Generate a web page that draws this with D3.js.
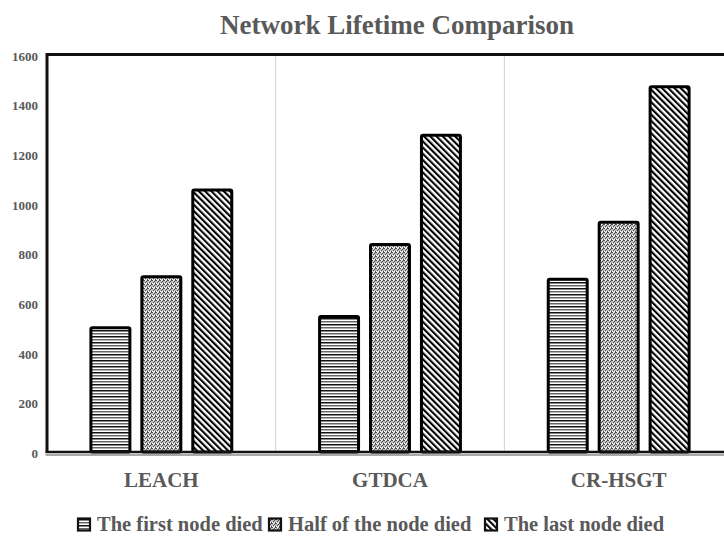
<!DOCTYPE html>
<html>
<head>
<meta charset="utf-8">
<script src="https://cdn.jsdelivr.net/npm/d3@7"></script>
<style>
  body { margin: 0; background: #fff; }
  svg { display: block; font-family: "Liberation Serif", "DejaVu Serif", serif; }
</style>
</head>
<body>
<svg id="chart" width="724" height="537"></svg>
<script>
var categories = ['LEACH', 'GTDCA', 'CR-HSGT'];
var seriesNames = ['The first node died', 'Half of the node died', 'The last node died'];
var firstDied = [500, 545, 695];
var halfDied = [705, 835, 925];
var lastDied = [1055, 1275, 1470];
var yTicks = [0, 200, 400, 600, 800, 1000, 1200, 1400, 1600];

var conf = {
    left: 47, top: 54.5, right: 733, bottom: 452,
    textColor: '#595959'
};

var svg = d3.select('#chart');
var defs = svg.append('defs');

// horizontal stripes
var p0 = defs.append('pattern').attr('id', 'pat0')
    .attr('patternUnits', 'userSpaceOnUse').attr('width', 4).attr('height', 6);
p0.append('rect').attr('width', 4).attr('height', 6).attr('fill', '#fff');
p0.append('rect').attr('y', 0).attr('width', 4).attr('height', 1.5).attr('fill', '#111');
p0.append('rect').attr('y', 3).attr('width', 4).attr('height', 1.5).attr('fill', '#666');

// stippled grey
var p1 = defs.append('pattern').attr('id', 'pat1')
    .attr('patternUnits', 'userSpaceOnUse').attr('width', 4).attr('height', 4);
p1.append('rect').attr('width', 4).attr('height', 4).attr('fill', '#c0c0c0');
[[0, 0], [2, 1], [1, 2], [3, 3], [3, 0]].forEach(function(d) {
    p1.append('rect').attr('x', d[0]).attr('y', d[1]).attr('width', 1).attr('height', 1).attr('fill', '#4a4a4a');
});
[[1, 0], [0, 3], [2, 3]].forEach(function(d) {
    p1.append('rect').attr('x', d[0]).attr('y', d[1]).attr('width', 1).attr('height', 1).attr('fill', '#fff');
});

// diagonal stripes "\"
var p2 = defs.append('pattern').attr('id', 'pat2')
    .attr('patternUnits', 'userSpaceOnUse').attr('width', 4.4).attr('height', 4.4)
    .attr('patternTransform', 'rotate(-45)');
p2.append('rect').attr('width', 4.4).attr('height', 4.4).attr('fill', '#fff');
p2.append('rect').attr('width', 2.1).attr('height', 4.4).attr('fill', '#000');

var fills = ['url(#pat0)', 'url(#pat1)', 'url(#pat2)'];

var x = d3.scaleBand().domain(categories).range([conf.left, conf.right]);
var y = d3.scaleLinear().domain([0, 1600]).range([conf.bottom, conf.top]);

// category separators
svg.append('g').selectAll('line')
    .data(categories.slice(1))
    .join('line')
    .attr('x1', d => x(d)).attr('x2', d => x(d))
    .attr('y1', conf.top).attr('y2', conf.bottom)
    .attr('stroke', '#d0d0d0').attr('stroke-width', 1);

// y tick labels
svg.append('g').selectAll('text')
    .data(yTicks)
    .join('text')
    .attr('x', 38).attr('y', d => y(d) + 6)
    .attr('text-anchor', 'end')
    .attr('font-size', 13).attr('font-weight', 'bold')
    .attr('fill', conf.textColor)
    .text(d => d);

// bars
var data = [];
categories.forEach(function(c, i) {
    [firstDied, halfDied, lastDied].forEach(function(s, j) {
        data.push({ cat: c, series: j, value: s[i] });
    });
});
var inner = d3.scaleBand().domain([0, 1, 2]).range([0, x.bandwidth()]).paddingInner(0.235).paddingOuter(0.862);

svg.append('g').selectAll('rect')
    .data(data)
    .join('rect')
    .attr('x', d => x(d.cat) + inner(d.series))
    .attr('y', d => y(d.value))
    .attr('width', inner.bandwidth())
    .attr('height', d => conf.bottom - y(d.value))
    .attr('rx', 1.5)
    .attr('fill', d => fills[d.series])
    .attr('stroke', '#000').attr('stroke-width', 3);

// frame
svg.append('line').attr('x1', conf.left).attr('x2', 724).attr('y1', conf.top).attr('y2', conf.top)
    .attr('stroke', '#111').attr('stroke-width', 2.8);
svg.append('line').attr('x1', conf.left).attr('x2', conf.left).attr('y1', conf.top - 1.4).attr('y2', conf.bottom)
    .attr('stroke', '#111').attr('stroke-width', 3);
svg.append('line').attr('x1', conf.left - 1.5).attr('x2', 724).attr('y1', conf.bottom).attr('y2', conf.bottom)
    .attr('stroke', '#111').attr('stroke-width', 2.5);
svg.append('line').attr('x1', conf.left - 1.5).attr('x2', 724).attr('y1', conf.bottom + 3).attr('y2', conf.bottom + 3)
    .attr('stroke', '#555').attr('stroke-width', 1.2);

// category labels
svg.append('g').selectAll('text')
    .data(categories)
    .join('text')
    .attr('x', d => x(d) + x.bandwidth() / 2)
    .attr('y', 487)
    .attr('text-anchor', 'middle')
    .attr('font-size', 21).attr('font-weight', 'bold')
    .attr('fill', conf.textColor)
    .text(d => d);

// title
svg.append('text')
    .attr('x', 397).attr('y', 34)
    .attr('text-anchor', 'middle')
    .attr('font-size', 27).attr('font-weight', 'bold')
    .attr('fill', conf.textColor)
    .text('Network Lifetime Comparison');

// legend
var legendX = [97, 288, 504];
var legend = svg.append('g').selectAll('g')
    .data(seriesNames)
    .join('g')
    .attr('transform', (d, i) => 'translate(' + legendX[i] + ',531)');
legend.append('rect')
    .attr('x', -19).attr('y', -12.5).attr('width', 12).attr('height', 12)
    .attr('fill', (d, i) => fills[i])
    .attr('stroke', '#111').attr('stroke-width', 2.2);
legend.append('text')
    .attr('x', 0).attr('y', 0)
    .attr('font-size', 20.5).attr('font-weight', 'bold')
    .attr('fill', conf.textColor)
    .text(d => d);
</script>
</body>
</html>
